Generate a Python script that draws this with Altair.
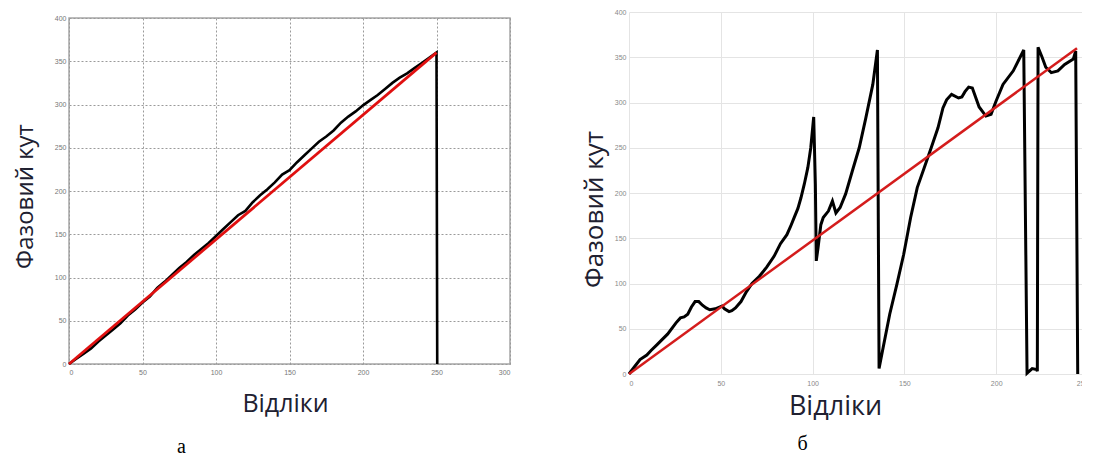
import altair as alt
import pandas as pd

# ---------------- Panel "а" ----------------
left_x = [0, 5, 10, 15, 20, 25, 30, 35, 40, 45, 50, 55, 60, 65, 70, 75, 80, 85, 90, 95,
          100, 105, 110, 115, 120, 125, 130, 135, 140, 145, 150, 155, 160, 165, 170, 175,
          180, 185, 190, 195, 200, 205, 210, 215, 220, 225, 230, 235, 240, 245, 250, 250.5]
left_phase = [0, 6, 12, 18, 26, 33, 40, 47, 56, 63, 71, 78, 88, 95, 103, 111, 118, 126, 133, 140,
              148, 156, 164, 172, 177, 187, 195, 202, 210, 219, 224, 233, 241, 249, 257, 263,
              270, 279, 286, 292, 299, 305, 311, 318, 325, 331, 336, 342, 348, 354, 360, 0]
left_ref_x = [0, 250]
left_ref_y = [0, 360]

# ---------------- Panel "б" ----------------
right_x = [0, 3, 6, 9.7, 12, 15.3, 18, 21, 25.6, 28, 30, 32, 34, 36, 38, 40, 42, 44, 47, 50.7,
           52, 54.5, 56, 58, 61, 64, 67, 71, 75, 79, 82.5, 86, 88, 90, 92, 93.7, 95.5, 97.4, 99,
           100.6, 101.5, 102, 103, 104.5, 105.8, 108.6, 110.8, 112.7, 115, 118, 121.6, 125.4,
           129, 132.8, 135.3, 136.2, 138.4, 142, 145.9, 149.6, 153.4, 157, 160.8, 164.6, 168.3,
           171, 173, 175.7, 179.5, 181.3, 183, 185, 187, 190.7, 194.4, 197.2, 200, 203.7, 209.3,
           215, 216.8, 219.6, 222, 222.4, 222.8, 225, 227, 230, 233.6, 237.3, 242, 243.3, 244.4]
right_phase = [0, 8, 16, 21, 26, 32.5, 38, 44, 56.5, 62, 63, 66, 74, 80, 80, 76, 73, 71, 72, 75,
               72, 69, 70, 73, 80, 91, 100, 108, 118, 130, 144, 154, 163, 173, 183, 195, 210, 228, 250,
               284, 210, 125, 140, 165, 173, 180, 191, 178, 184, 199, 224, 250,
               283, 320, 358, 6, 29, 66, 99, 132, 173, 206, 228, 250, 272,
               294, 303, 309, 305, 306, 312, 317, 316, 295, 285, 287, 302, 320, 335,
               358, 1, 6, 5, 3, 361, 350, 339, 333, 335, 342, 348, 357, 0]
right_ref_x = [0, 244]
right_ref_y = [0, 360]

left_ticks_x = [0, 50, 100, 150, 200, 250, 300]
right_ticks_x = [0, 50, 100, 150, 200, 250]
ticks_y = [0, 50, 100, 150, 200, 250, 300, 350, 400]

df_l = pd.DataFrame({"x": left_x, "y": left_phase, "i": list(range(len(left_x)))})
df_lr = pd.DataFrame({"x": left_ref_x, "y": left_ref_y})
df_r = pd.DataFrame({"x": right_x, "y": right_phase, "i": list(range(len(right_x)))})
df_rr = pd.DataFrame({"x": right_ref_x, "y": right_ref_y})

TITLE_FONT = "Open Sans"
TITLE_COLOR = "#202030"

# ----- left chart -----
lx = alt.X("x:Q", scale=alt.Scale(domain=[0, 300], nice=False),
           axis=alt.Axis(values=left_ticks_x, grid=True, gridDash=[2, 2], gridColor="#9a9a9a",
                         gridWidth=1, domain=False, ticks=False, labelFontSize=7,
                         labelColor="#777777", labelPadding=4, labelFont="Liberation Sans",
                         title="Відліки", titleFont=TITLE_FONT, titleFontSize=25,
                         titleFontWeight="normal", titleColor=TITLE_COLOR,
                         titleX=216, titleY=47, titleBaseline="alphabetic", titleAlign="center"))
ly = alt.Y("y:Q", scale=alt.Scale(domain=[0, 400], nice=False),
           axis=alt.Axis(values=ticks_y, grid=True, gridDash=[2, 2], gridColor="#9a9a9a",
                         gridWidth=1, domain=False, ticks=False, labelFontSize=7,
                         labelColor="#777777", labelPadding=3, labelFont="Liberation Sans",
                         title="Фазовий кут", titleFont=TITLE_FONT, titleFontSize=24,
                         titleFontWeight="normal", titleColor=TITLE_COLOR, titleAngle=270,
                         titleX=-37, titleY=178, titleBaseline="alphabetic", titleAlign="center"))

left_black = alt.Chart(df_l).mark_line(color="black", strokeWidth=2.6).encode(
    x=lx, y=ly, order="i:Q")
left_red = alt.Chart(df_lr).mark_line(color="#e01010", strokeWidth=2.8).encode(
    x="x:Q", y="y:Q")
left = alt.layer(left_black, left_red).properties(
    width=441, height=346,
    view=alt.ViewBackground(stroke="#a6a6a6", strokeWidth=1.5),
    title=alt.TitleParams("а", orient="bottom", anchor="middle", frame="group",
                          font="Liberation Serif", fontSize=20, fontWeight="normal",
                          color="black", baseline="alphabetic", offset=37, dx=-108),
)

spacer = alt.Chart(pd.DataFrame({"v": pd.Series([], dtype=float)})).mark_point(opacity=0).encode(
    x=alt.X("v:Q", axis=None), y=alt.Y("v:Q", axis=None)
).properties(width=1, height=1, view=alt.ViewBackground(fill="white", stroke=None))

left_col = alt.vconcat(spacer, left, spacing=0)

# ----- right chart -----
rx = alt.X("x:Q", scale=alt.Scale(domain=[0, 250], nice=False),
           axis=alt.Axis(values=right_ticks_x, grid=True, gridColor="#e4e4e4", gridWidth=1,
                         domain=False, ticks=False, labelFontSize=7, labelColor="#888888",
                         labelPadding=5, labelFont="Liberation Sans",
                         title="Відліки", titleFont=TITLE_FONT, titleFontSize=27,
                         titleFontWeight="normal", titleColor=TITLE_COLOR,
                         titleX=206, titleY=40, titleBaseline="alphabetic", titleAlign="center"))
ry = alt.Y("y:Q", scale=alt.Scale(domain=[0, 400], nice=False),
           axis=alt.Axis(values=ticks_y, grid=True, gridColor="#e4e4e4", gridWidth=1,
                         domain=False, ticks=False, labelFontSize=7, labelColor="#888888",
                         labelPadding=3, labelFont="Liberation Sans",
                         title="Фазовий кут", titleFont=TITLE_FONT, titleFontSize=26,
                         titleFontWeight="normal", titleColor=TITLE_COLOR, titleAngle=270,
                         titleX=-27, titleY=197, titleBaseline="alphabetic", titleAlign="center"))

right_black = alt.Chart(df_r).mark_line(color="black", strokeWidth=3).encode(
    x=rx, y=ry, order="i:Q")
right_red = alt.Chart(df_rr).mark_line(color="#d41c1c", strokeWidth=2.5).encode(
    x="x:Q", y="y:Q")
right = alt.layer(right_black, right_red).properties(
    width=459, height=362,
    title=alt.TitleParams("б", orient="bottom", anchor="middle", frame="group",
                          font="Liberation Serif", fontSize=20, fontWeight="normal",
                          color="black", baseline="alphabetic", offset=31, dx=-56),
)

chart = alt.hconcat(left_col, right, spacing=70).properties(
    padding={"left": 4, "top": 0, "right": -6, "bottom": 0},
    background="white",
).configure_view(stroke=None)

chart.save("out.html", embed_options={"renderer": "svg", "actions": False})
